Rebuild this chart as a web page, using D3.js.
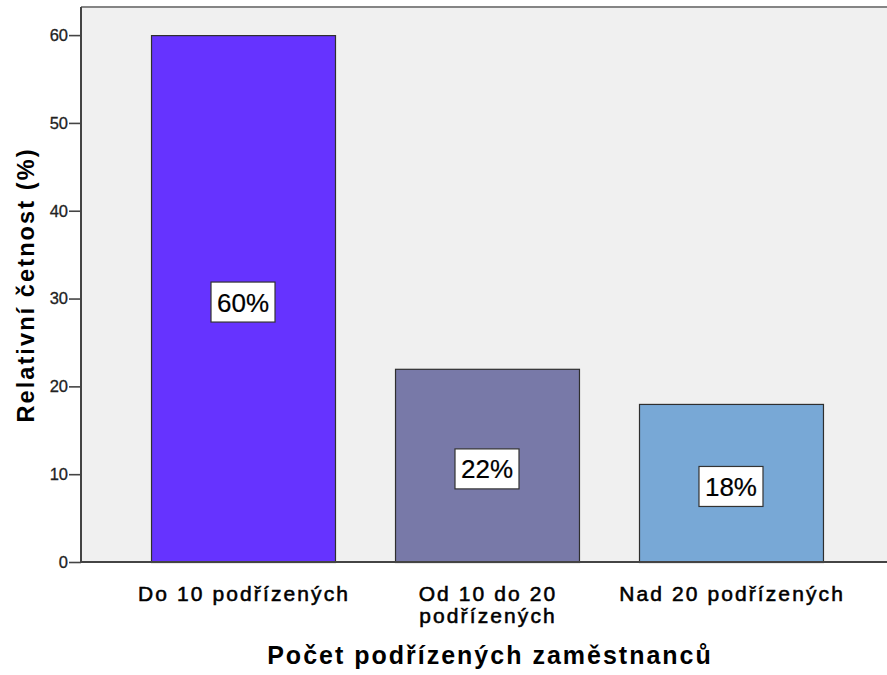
<!DOCTYPE html>
<html>
<head>
<meta charset="utf-8">
<script src="https://cdn.jsdelivr.net/npm/d3@7/dist/d3.min.js"></script>
<style>
  html, body { margin: 0; padding: 0; background: #ffffff; }
  svg { display: block; font-family: "Liberation Sans", Arial, sans-serif; }
</style>
</head>
<body>
<svg id="chart" width="887" height="675"></svg>
<script>
// Share of respondents by number of subordinates
const categories = ["Do 10 podřízených", "Od 10 do 20 podřízených", "Nad 20 podřízených"];
const categoryLines = [["Do 10 podřízených"], ["Od 10 do 20", "podřízených"], ["Nad 20 podřízených"]];
const values = [60, 22, 18];
const valueLabels = ["60%", "22%", "18%"];
const barColors = ["#6633ff", "#7879a8", "#78a8d6"];
const yTicks = [0, 10, 20, 30, 40, 50, 60];
const xTitle = "Počet podřízených zaměstnanců";
const yTitle = "Relativní četnost (%)";

const svg = d3.select("#chart");
const W = 887, H = 675;
const plot = { left: 81, top: 7, bottom: 562 };
const FONT = "'Liberation Sans', Arial, sans-serif";

const x = d3.scaleBand()
  .domain(categories)
  .range([plot.left, 893])
  .paddingInner(0.246)
  .paddingOuter(0.287);

const y = d3.scaleLinear()
  .domain([0, 63.2])
  .range([plot.bottom, plot.top]);

// plot area background
svg.append("rect")
  .attr("x", plot.left).attr("y", plot.top)
  .attr("width", 893 - plot.left).attr("height", plot.bottom - plot.top)
  .attr("fill", "#f0f0f0");

// top frame line
svg.append("line")
  .attr("x1", plot.left).attr("x2", W)
  .attr("y1", plot.top).attr("y2", plot.top)
  .attr("stroke", "#858585").attr("stroke-width", 2);

// bars
svg.append("g").selectAll("rect")
  .data(values)
  .join("rect")
  .attr("x", (d, i) => x(categories[i]) + 0.5)
  .attr("y", d => y(d) + 0.5)
  .attr("width", x.bandwidth())
  .attr("height", d => y(0) - y(d))
  .attr("fill", (d, i) => barColors[i])
  .attr("stroke", "#2f2f2f")
  .attr("stroke-width", 1.2);

// y axis
const yAxis = svg.append("g")
  .attr("transform", `translate(${plot.left},0)`)
  .call(d3.axisLeft(y).tickValues(yTicks).tickSize(12).tickPadding(1).tickSizeOuter(0));
yAxis.attr("font-size", null).attr("font-family", null);
yAxis.select(".domain").attr("stroke", "#444").attr("stroke-width", 2)
  .attr("d", `M0,${plot.top}V${plot.bottom}`);
yAxis.selectAll(".tick line").attr("stroke", "#444").attr("stroke-width", 1.6);
yAxis.selectAll(".tick text")
  .style("font-size", "16.5px").attr("fill", "#222")
  .attr("stroke", "#222").attr("stroke-width", 0.3)
  .style("font-family", FONT);

// x axis baseline
const xAxis = svg.append("g")
  .attr("transform", `translate(0,${plot.bottom})`)
  .call(d3.axisBottom(x).tickSize(0).tickSizeOuter(0).tickFormat(""));
xAxis.select(".domain").attr("stroke", "#444").attr("stroke-width", 2)
  .attr("d", `M${plot.left},0H${W}`);

// category labels
const catG = svg.append("g");
const catSpacing = 2.1;
categories.forEach((c, i) => {
  const cx = x(c) + x.bandwidth() / 2 + catSpacing / 2;
  const t = catG.append("text")
    .attr("y", 601)
    .attr("text-anchor", "middle")
    .style("font-size", "21px")
    .style("letter-spacing", catSpacing + "px")
    .attr("fill", "#000")
    .attr("stroke", "#000").attr("stroke-width", 0.55);
  categoryLines[i].forEach((line, j) => {
    t.append("tspan")
      .attr("x", cx)
      .attr("dy", j === 0 ? 0 : 22)
      .text(line);
  });
});

// value labels in boxes
const lab = svg.append("g");
values.forEach((v, i) => {
  const cx = x(categories[i]) + x.bandwidth() / 2;
  const cy = y(v / 2) + 3.5;
  const g = lab.append("g");
  g.append("rect")
    .attr("x", cx - 32).attr("y", cy - 20)
    .attr("width", 64).attr("height", 40)
    .attr("fill", "#ffffff")
    .attr("stroke", "#333").attr("stroke-width", 1.2);
  g.append("text")
    .attr("x", cx).attr("y", cy + 9.5)
    .attr("text-anchor", "middle")
    .style("font-size", "26px")
    .attr("fill", "#000")
    .attr("stroke", "#000").attr("stroke-width", 0.2)
    .text(valueLabels[i]);
});

// axis titles
const titleSpacing = 2.0;
svg.append("text")
  .attr("x", 489 + titleSpacing / 2).attr("y", 664)
  .attr("text-anchor", "middle")
  .style("font-size", "25px").attr("font-weight", "bold")
  .style("letter-spacing", titleSpacing + "px")
  .attr("fill", "#000")
  .text(xTitle);

svg.append("text")
  .attr("transform", "translate(34,286) rotate(-90)")
  .attr("x", 1)
  .attr("text-anchor", "middle")
  .style("font-size", "23.5px").attr("font-weight", "bold")
  .style("letter-spacing", "2.1px")
  .attr("fill", "#000")
  .text(yTitle);
</script>
</body>
</html>
